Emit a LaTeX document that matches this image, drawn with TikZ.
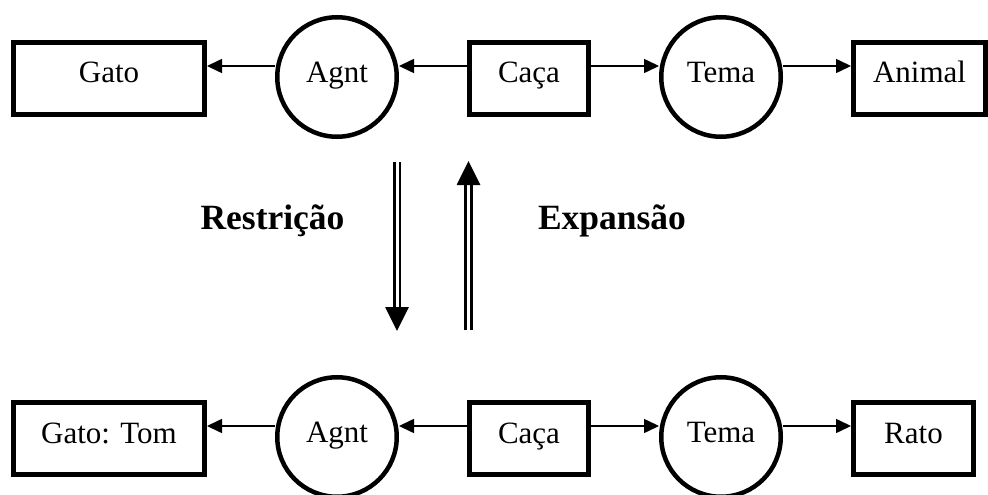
\documentclass[tikz,border=0pt]{standalone}
\usepackage{fontspec}
\setmainfont{Liberation Serif}
\usetikzlibrary{arrows.meta}
\tikzset{
  concept/.style={draw, line width=5pt, minimum height=72pt, inner sep=0pt,
    font=\fontsize{31}{37}\selectfont, text height=20pt, text depth=11pt},
  relation/.style={draw, circle, line width=4.5pt, minimum size=119.5pt, inner sep=0pt,
    font=\fontsize{31}{37}\selectfont, text height=20pt, text depth=9pt},
  link/.style={line width=1.6pt, -{Triangle[length=15pt,width=14pt]}},
  dblarrow/.style={double, double distance=3pt, line width=2.8pt,
    -{Triangle[length=24pt,width=23pt]}, shorten >=-2pt},
  oplabel/.style={font=\fontsize{35.5}{42}\selectfont\bfseries, anchor=base}
}
\begin{document}
\begin{tikzpicture}[x=1pt, y=-1pt]
\useasboundingbox (0,0) rectangle (988,495);
% top row
\node[concept, minimum width=191pt] (gato1) at (109,78.5) {Gato};
\node[relation] (agnt1) at (337,77) {Agnt};
\node[concept, minimum width=119pt] (caca1) at (529,78.5) {Caça};
\node[relation] (tema1) at (721,77) {Tema};
\node[concept, minimum width=132pt] (animal) at (919.5,78.5) {Animal};
\coordinate (row1) at (0,66);
\draw[link] (agnt1.west |- row1) -- (gato1.east |- row1);
\draw[link] (caca1.west |- row1) -- (agnt1.east |- row1);
\draw[link] (caca1.east |- row1) -- (tema1.west |- row1);
\draw[link] (tema1.east |- row1) -- (animal.west |- row1);
% bottom row
\node[concept, minimum width=191pt] (gato2) at (109,438.5) {Gato: Tom};
\node[relation] (agnt2) at (337,437) {Agnt};
\node[concept, minimum width=119pt] (caca2) at (529,438.5) {Caça};
\node[relation] (tema2) at (721,437) {Tema};
\node[concept, minimum width=120pt] (rato) at (913.5,438.5) {Rato};
\coordinate (row2) at (0,426);
\draw[link] (agnt2.west |- row2) -- (gato2.east |- row2);
\draw[link] (caca2.west |- row2) -- (agnt2.east |- row2);
\draw[link] (caca2.east |- row2) -- (tema2.west |- row2);
\draw[link] (tema2.east |- row2) -- (rato.west |- row2);
% middle
\coordinate (dtop) at (397,162);
\coordinate (dbot) at (397,329);
\coordinate (utop) at (468.5,163);
\coordinate (ubot) at (468.5,330);
\draw[dblarrow] (dtop) -- (dbot);
\draw[dblarrow] (ubot) -- (utop);
\node[oplabel] (restr) at (272.5,229) {Restrição};
\node[oplabel] (expan) at (612,229) {Expansão};
\end{tikzpicture}
\end{document}
